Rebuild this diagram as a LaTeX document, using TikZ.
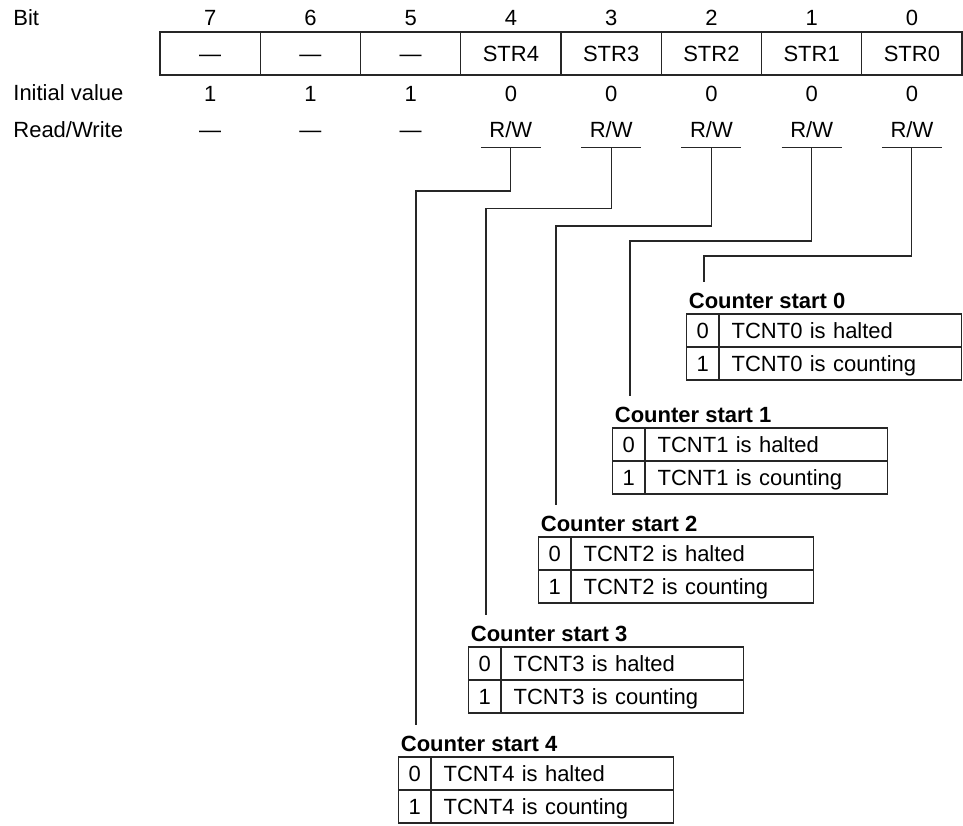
\documentclass[tikz,border=0pt]{standalone}
\usepackage{fontspec}
\setmainfont{Liberation Sans}
\usetikzlibrary{calc,positioning}

\begin{document}
\begin{tikzpicture}[
  x=0.5pt, y=-0.5pt,
  font=\fontsize{11}{13}\selectfont,
  rule/.style={draw=black!85,line width=0.55pt},
  lead/.style={draw=black!85,line width=0.55pt},
  regcell/.style={rule,outer sep=0pt,inner sep=0pt,anchor=north west,
                  minimum width=50.125pt,minimum height=21.5pt,
                  text height=7.9pt,text depth=0pt},
  rowtext/.style={anchor=base,inner sep=0pt},
  rowhead/.style={anchor=base west,inner sep=0pt},
  digit/.style={rule,outer sep=0pt,inner sep=0pt,
                minimum width=16.25pt,minimum height=16.5pt,
                text height=7.9pt,text depth=0pt},
  entry/.style={rule,outer sep=0pt,inner xsep=6.3pt,inner ysep=0pt,
                text width=108.65pt,align=left,minimum height=16.5pt,
                text height=7.9pt,text depth=0pt},
  ctitle/.style={anchor=base west,inner sep=0pt,
                 font=\fontsize{11}{13}\selectfont\bfseries}
]
\useasboundingbox (0,0) rectangle (963,825);

% row headings
\node[rowhead] (bithead) at (13,25) {Bit};
\node[rowhead] (inithead) at (13,100.5) {Initial value};
\node[rowhead] (rwhead) at (13,137.5) {Read/Write};

% reserved bits 7--5
\foreach \b [count=\k from 0] in {7,6,5} {
  \pgfmathsetmacro\cx{160+100.25*(\k+0.5)}
  \node[regcell] (reg\b) at ({160+100.25*\k},32) {\textemdash};
  \node[rowtext] (bit\b) at (\cx,25) {\b};
  \node[rowtext] (init\b) at (\cx,101) {1};
  \node[rowtext] (rw\b) at (\cx,137.5) {\textemdash};
}
% start bits 4--0
\foreach \b [count=\k from 3] in {4,3,2,1,0} {
  \pgfmathsetmacro\cx{160+100.25*(\k+0.5)}
  \node[regcell] (reg\b) at ({160+100.25*\k},32) {STR\b};
  \node[rowtext] (bit\b) at (\cx,25) {\b};
  \node[rowtext] (init\b) at (\cx,101) {0};
  \node[rowtext] (rw\b) at (\cx,137.5) {R/W};
  \coordinate (tap\b) at (\cx,147.5);
  \draw[rule] ($(tap\b)+(-30,0)$) -- ($(tap\b)+(30,0)$);
}

% counter start tables
\foreach \i/\lx/\bend/\ty in {4/416/191/757,3/486/208.5/647,2/556/226/537,
                              1/630/241/428,0/704/256/314} {
  \node[digit,anchor=north west] (zero\i) at ({\lx-17.5},\ty) {0};
  \node[entry,right=0pt of zero\i] (halt\i) {TCNT\i{} is halted};
  \node[digit,below=0pt of zero\i] (one\i) {1};
  \node[entry,right=0pt of one\i] (count\i) {TCNT\i{} is counting};
  \node[ctitle] (title\i) at ($(zero\i.north west)+(2,-5.5)$) {Counter start \i};
  \coordinate (knee\i) at (\lx,\bend);
  \coordinate (tip\i) at (\lx,{\ty-32});
  \draw[lead] (tap\i) |- (knee\i) -- (tip\i);
}
\end{tikzpicture}
\end{document}
